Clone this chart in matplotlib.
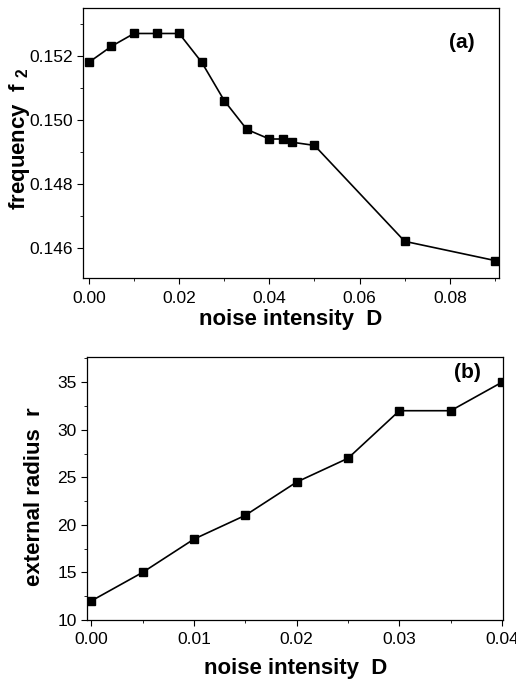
import matplotlib
matplotlib.use("Agg")
import matplotlib.pyplot as plt
from matplotlib.ticker import MultipleLocator, FormatStrFormatter

# panel (a): frequency f2 vs noise intensity
noise_a = [0.0, 0.005, 0.01, 0.015, 0.02, 0.025, 0.03, 0.035, 0.04, 0.043, 0.045, 0.05, 0.07, 0.09]
freq_a = [0.1518, 0.1523, 0.1527, 0.1527, 0.1527, 0.1518, 0.1506, 0.1497,
          0.1494, 0.1494, 0.1493, 0.1492, 0.1462, 0.1456]

# panel (b): external radius vs noise intensity
noise_b = [0.0, 0.005, 0.01, 0.015, 0.02, 0.025, 0.03, 0.035, 0.04]
radius_b = [12, 15, 18.5, 21, 24.5, 27, 32, 32, 35]

plt.rcParams.update(
    {
        "font.family": ["Liberation Sans", "DejaVu Sans"],
        "mathtext.default": "regular",
        "xtick.direction": "out",
        "ytick.direction": "out",
        "xtick.labelsize": 12.5,
        "ytick.labelsize": 12.5,
        "xtick.major.size": 4,
        "ytick.major.size": 4,
        "xtick.minor.size": 2.5,
        "ytick.minor.size": 2.5,
        "xtick.major.pad": 5,
        "axes.linewidth": 0.9,
    }
)

fig = plt.figure(figsize=(5.16, 6.85), dpi=100)
ax_a = fig.add_axes([0.161, 0.594, 0.806, 0.394])
ax_b = fig.add_axes([0.169, 0.095, 0.806, 0.384])

line_kw = dict(color="black", lw=1.2, marker="s", ms=5.5, mfc="black", mec="black")

ax_a.plot(noise_a, freq_a, **line_kw)
ax_a.set_xlim(-0.0013, 0.0909)
ax_a.set_ylim(0.14505, 0.15349)
ax_a.xaxis.set_major_locator(MultipleLocator(0.02))
ax_a.xaxis.set_minor_locator(MultipleLocator(0.01))
ax_a.yaxis.set_major_locator(MultipleLocator(0.002))
ax_a.yaxis.set_minor_locator(MultipleLocator(0.001))
ax_a.xaxis.set_major_formatter(FormatStrFormatter("%.2f"))
ax_a.yaxis.set_major_formatter(FormatStrFormatter("%.3f"))
ax_a.set_xlabel("noise intensity  D", fontsize=16, fontweight="bold")
ax_a.xaxis.set_label_coords(0.5, -0.115)
ax_a.set_ylabel(r"frequency  f $_{2}$", fontsize=16, fontweight="bold")
ax_a.yaxis.set_label_coords(-0.122, 0.515)
ax_a.text(0.91, 0.874, "(a)", transform=ax_a.transAxes, fontsize=15,
          fontweight="bold", ha="center", va="center")

ax_b.plot(noise_b, radius_b, **line_kw)
ax_b.set_xlim(-0.0004, 0.0401)
ax_b.set_ylim(10, 37.66)
ax_b.xaxis.set_major_locator(MultipleLocator(0.01))
ax_b.xaxis.set_minor_locator(MultipleLocator(0.005))
ax_b.yaxis.set_major_locator(MultipleLocator(5))
ax_b.yaxis.set_minor_locator(MultipleLocator(2.5))
ax_b.xaxis.set_major_formatter(FormatStrFormatter("%.2f"))
ax_b.set_xlabel("noise intensity  D", fontsize=16, fontweight="bold")
ax_b.xaxis.set_label_coords(0.5, -0.145)
ax_b.set_ylabel("external radius  r", fontsize=16, fontweight="bold")
ax_b.yaxis.set_label_coords(-0.101, 0.47)
ax_b.text(0.915, 0.94, "(b)", transform=ax_b.transAxes, fontsize=15,
          fontweight="bold", ha="center", va="center")

fig.savefig("out.png", dpi=100)
